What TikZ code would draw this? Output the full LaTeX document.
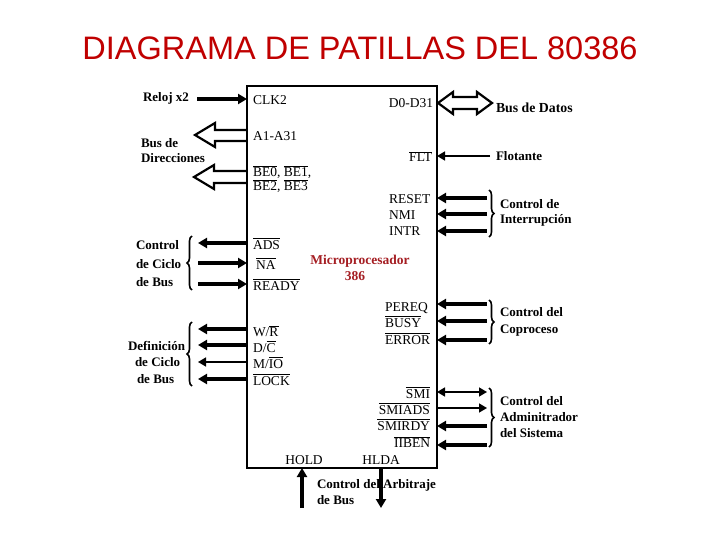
\documentclass[tikz,border=0pt]{standalone}
\usepackage{fontspec}
\setmainfont{Liberation Serif}
\newfontfamily\titlefont{Liberation Sans}
\usetikzlibrary{arrows.meta,decorations.pathreplacing}
\definecolor{titlered}{RGB}{192,0,0}
\definecolor{cpured}{RGB}{165,30,35}
\newcommand\ovl[1]{$\overline{\hbox{#1}}$}
\begin{document}
\begin{tikzpicture}[x=1pt,y=-1pt,
  pinlbl/.style={font=\fontsize{13.5}{15}\selectfont, inner sep=0pt, outer sep=0pt},
  outlbl/.style={font=\bfseries\fontsize{13}{15}\selectfont, inner sep=0pt, outer sep=0pt, anchor=base west},
  thk/.style={line width=3.2pt, -{Triangle[length=9pt,width=10pt]}},
  thn/.style={line width=1.5pt, -{Triangle[length=8pt,width=9pt]}},
  thnboth/.style={line width=1.5pt, {Triangle[length=8pt,width=9pt]}-{Triangle[length=8pt,width=9pt]}},
  hollow/.style={line width=2.2pt, fill=white, line join=miter},
  bracestyle/.style={line width=1.6pt, decorate, decoration={brace, amplitude=5pt}}
]
\useasboundingbox (0,0) rectangle (720,540);
\fill[white] (0,0) rectangle (720,540);

% title
\node[font=\titlefont\fontsize{32.5}{36}\selectfont, text=titlered, inner sep=0pt, anchor=base] (title) at (360,60) {DIAGRAMA DE PATILLAS DEL 80386};

% chip box
\node[draw, line width=2pt, minimum width=190pt, minimum height=382pt, inner sep=0pt, outer sep=0pt, anchor=north west] (chip) at (247,86) {};

% ---------- hollow bus arrows ----------
\draw[hollow] (247,130) -- (215,130) -- (215,123) -- (195,135) -- (215,147) -- (215,141) -- (247,141);
\draw[hollow] (247,171) -- (214,171) -- (214,165) -- (194,177) -- (214,189) -- (214,183) -- (247,183);
\draw[hollow] (438,103) -- (453,92) -- (453,97) -- (477,97) -- (477,92) -- (492,103) -- (477,114) -- (477,109) -- (453,109) -- (453,114) -- cycle;
\draw[line width=2pt] (chip.north west) rectangle (chip.south east);

% ---------- coordinates ----------
\coordinate (clkA) at (197,99);   \coordinate (clkB) at (247,99);
\coordinate (adsA) at (247,243);  \coordinate (adsB) at (198,243);
\coordinate (naA) at (198,263);   \coordinate (naB) at (247,263);
\coordinate (rdyA) at (198,284);  \coordinate (rdyB) at (247,284);
\coordinate (wrA) at (247,329);   \coordinate (wrB) at (198,329);
\coordinate (dcA) at (247,345);   \coordinate (dcB) at (198,345);
\coordinate (mioA) at (247,362);  \coordinate (mioB) at (198,362);
\coordinate (lckA) at (247,379);  \coordinate (lckB) at (198,379);
\coordinate (fltA) at (490,156);  \coordinate (fltB) at (437,156);
\coordinate (rstA) at (487,198);  \coordinate (rstB) at (437,198);
\coordinate (nmiA) at (487,214);  \coordinate (nmiB) at (437,214);
\coordinate (intA) at (487,231);  \coordinate (intB) at (437,231);
\coordinate (peqA) at (487,304);  \coordinate (peqB) at (437,304);
\coordinate (bsyA) at (487,321);  \coordinate (bsyB) at (437,321);
\coordinate (errA) at (487,340);  \coordinate (errB) at (437,340);
\coordinate (smiA) at (437,392);  \coordinate (smiB) at (487,392);
\coordinate (sadA) at (437,408);  \coordinate (sadB) at (487,408);
\coordinate (srdA) at (487,426);  \coordinate (srdB) at (437,426);
\coordinate (ibnA) at (487,445);  \coordinate (ibnB) at (437,445);
\coordinate (holdA) at (302,508); \coordinate (holdB) at (302,468);
\coordinate (hldaA) at (381,468); \coordinate (hldaB) at (381,508);

% ---------- pin arrows ----------
\draw[thk] (clkA) -- (clkB);
\draw[thk] (adsA) -- (adsB);
\draw[thk] (naA) -- (naB);
\draw[thk] (rdyA) -- (rdyB);
\draw[thk] (wrA) -- (wrB);
\draw[thk] (dcA) -- (dcB);
\draw[thn] (mioA) -- (mioB);
\draw[thk] (lckA) -- (lckB);
\draw[thn] (fltA) -- (fltB);
\draw[thk] (rstA) -- (rstB);
\draw[thk] (nmiA) -- (nmiB);
\draw[thk] (intA) -- (intB);
\draw[thk] (peqA) -- (peqB);
\draw[thk] (bsyA) -- (bsyB);
\draw[thk] (errA) -- (errB);
\draw[thnboth] (smiA) -- (smiB);
\draw[thn] (sadA) -- (sadB);
\draw[thk] (srdA) -- (srdB);
\draw[thk] (ibnA) -- (ibnB);
\draw[thk] (holdA) -- (holdB);
\draw[thk] (hldaA) -- (hldaB);

% ---------- braces ----------
\coordinate (br1a) at (192,290); \coordinate (br1b) at (192,236);
\coordinate (br2a) at (192,386); \coordinate (br2b) at (192,322);
\coordinate (br3a) at (489,190); \coordinate (br3b) at (489,237);
\coordinate (br4a) at (489,300); \coordinate (br4b) at (489,344);
\coordinate (br5a) at (489,388); \coordinate (br5b) at (489,447);
\draw[bracestyle] (br1a) -- (br1b);
\draw[bracestyle] (br2a) -- (br2b);
\draw[bracestyle] (br3a) -- (br3b);
\draw[bracestyle] (br4a) -- (br4b);
\draw[bracestyle] (br5a) -- (br5b);

% ---------- pin labels (inside) ----------
\node[pinlbl, anchor=base west] (lclk) at (253,105) {CLK2};
\node[pinlbl, anchor=base west] (la) at (253,141) {A1-A31};
\node[pinlbl, anchor=base west] (lbe1) at (253,177) {\ovl{BE0}, \ovl{BE1},};
\node[pinlbl, anchor=base west] (lbe2) at (253,191) {\ovl{BE2}, \ovl{BE3}};
\node[pinlbl, anchor=base west] (lads) at (253,249) {\ovl{ADS}};
\node[pinlbl, anchor=base west] (lna) at (256,269) {\ovl{NA}};
\node[pinlbl, anchor=base west] (lrdy) at (253,290) {\ovl{READY}};
\node[pinlbl, anchor=base west] (lwr) at (253,336) {W/\ovl{R}};
\node[pinlbl, anchor=base west] (ldc) at (253,352) {D/\ovl{C}};
\node[pinlbl, anchor=base west] (lmio) at (253,368) {M/\ovl{IO}};
\node[pinlbl, anchor=base west] (llck) at (253,385) {\ovl{LOCK}};

\node[pinlbl, anchor=base east] (ld) at (433,108) {D0-D31};
\node[pinlbl, anchor=base east] (lflt) at (432,162) {\ovl{FLT}};
\node[pinlbl, anchor=base west] (lrst) at (389,204) {RESET};
\node[pinlbl, anchor=base west] (lnmi) at (389,220) {NMI};
\node[pinlbl, anchor=base west] (lint) at (389,236) {INTR};
\node[pinlbl, anchor=base west] (lpeq) at (385,311) {PEREQ};
\node[pinlbl, anchor=base west] (lbsy) at (385,327) {\ovl{BUSY}};
\node[pinlbl, anchor=base west] (lerr) at (385,344) {\ovl{ERROR}};
\node[pinlbl, anchor=base east] (lsmi) at (430,398) {\ovl{SMI}};
\node[pinlbl, anchor=base east] (lsad) at (430,414) {\ovl{SMIADS}};
\node[pinlbl, anchor=base east] (lsrd) at (430,430) {\ovl{SMIRDY}};
\node[pinlbl, anchor=base east] (libn) at (430,447) {\ovl{IIBEN}};
\node[pinlbl, anchor=base] (lhold) at (304,464) {HOLD};
\node[pinlbl, anchor=base] (lhlda) at (381,464) {HLDA};

% ---------- CPU name ----------
\node[font=\bfseries\fontsize{13.5}{15}\selectfont, text=cpured, inner sep=0pt, anchor=base] (cpu1) at (360,264) {Microprocesador};
\node[font=\bfseries\fontsize{13.5}{15}\selectfont, text=cpured, inner sep=0pt, anchor=base] (cpu2) at (355,280) {386};

% ---------- outside labels ----------
\node[outlbl] (treloj) at (143,102) {Reloj x2};
\node[outlbl] (tbus1) at (141,148) {Bus de};
\node[outlbl] (tbus2) at (141,163) {Direcciones};
\node[outlbl, font=\bfseries\fontsize{13.8}{15}\selectfont] (tdat) at (496,113) {Bus de Datos};
\node[outlbl] (tflo) at (496,161) {Flotante};
\node[outlbl] (tint1) at (500,208) {Control de};
\node[outlbl] (tint2) at (500,224) {Interrupción};
\node[outlbl] (tcb1) at (136,249) {Control};
\node[outlbl] (tcb2) at (136,268) {de Ciclo};
\node[outlbl] (tcb3) at (136,286) {de Bus};
\node[outlbl] (tdef1) at (128,350) {Definición};
\node[outlbl] (tdef2) at (135,366) {de Ciclo};
\node[outlbl] (tdef3) at (137,383) {de Bus};
\node[outlbl] (tcop1) at (500,316) {Control del};
\node[outlbl] (tcop2) at (500,333) {Coproceso};
\node[outlbl] (tsis1) at (500,405) {Control del};
\node[outlbl] (tsis2) at (500,421) {Adminitrador};
\node[outlbl] (tsis3) at (500,437) {del Sistema};
\node[outlbl] (tarb1) at (317,488) {Control del Arbitraje};
\node[outlbl] (tarb2) at (317,504) {de Bus};
\end{tikzpicture}
\end{document}
